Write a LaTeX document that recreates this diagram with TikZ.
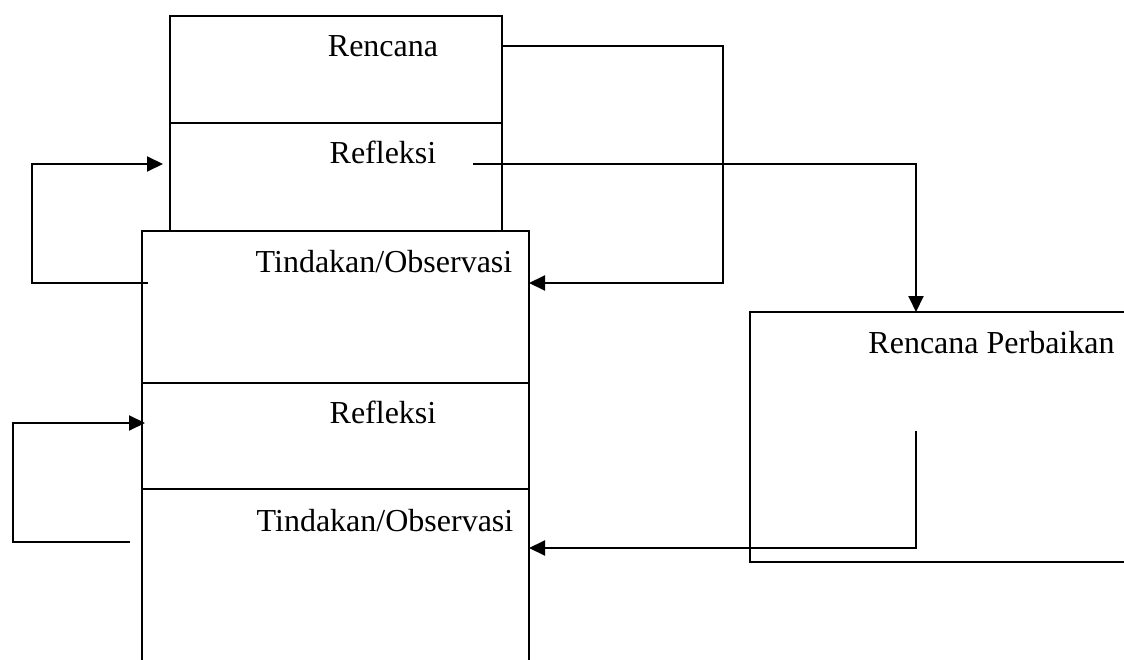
\documentclass[tikz,border=0pt]{standalone}
\usepackage{fontspec}
\setmainfont{Liberation Serif}
\usetikzlibrary{arrows.meta}
\begin{document}
\begin{tikzpicture}[x=1bp, y=-1bp, line width=2bp, line join=miter,
  lbl/.style={anchor=base, inner sep=0pt, font=\fontsize{32bp}{38bp}\selectfont},
  flow/.style={-{Triangle[length=16bp,width=15bp]}}]
\useasboundingbox (0,0) rectangle (1124,660);

% upper stack: Rencana / Refleksi
\draw (170,231) -- (170,16) -- (502,16) -- (502,231);
\draw (170,123) -- (502,123);

% lower stack: Tindakan/Observasi / Refleksi / Tindakan/Observasi
\draw (142,660) -- (142,231) -- (529,231) -- (529,660);
\draw (142,383) -- (529,383);
\draw (142,489) -- (529,489);

% improvement plan frame, open to the right
\draw (1124,312) -- (750,312) -- (750,562) -- (1124,562);

% labels
\node[lbl] (rencana)   at (383,57)    {Rencana};
\node[lbl] (refl1)     at (383,164)   {Refleksi};
\node[lbl] (tind1)     at (384,272)   {Tindakan/Observasi};
\node[lbl] (refl2)     at (383,423)   {Refleksi};
\node[lbl] (tind2)     at (385,531)   {Tindakan/Observasi};
\node[lbl] (perbaikan) at (991.5,353) {Rencana Perbaikan};

% connector end points
\coordinate (renOut)  at (502,46);
\coordinate (tin1In)  at (529,283);
\coordinate (refOut)  at (473,164);
\coordinate (perbIn)  at (916,312);
\coordinate (tin1Out) at (148,283);
\coordinate (ref1In)  at (163,164);
\coordinate (tin2Out) at (130,542);
\coordinate (ref2In)  at (145,423);
\coordinate (perbOut) at (916,431);
\coordinate (tin2In)  at (529,548);

% connectors
\draw[flow] (renOut) -- (723,46) -- (723,283) -- (tin1In);
\draw[flow] (refOut) -- (perbIn |- refOut) -- (perbIn);
\draw[flow] (tin1Out) -- (32,283) -- (32,164) -- (ref1In);
\draw[flow] (tin2Out) -- (13,542) -- (13,423) -- (ref2In);
\draw[flow] (perbOut) -- (perbOut |- tin2In) -- (tin2In);
\end{tikzpicture}
\end{document}
